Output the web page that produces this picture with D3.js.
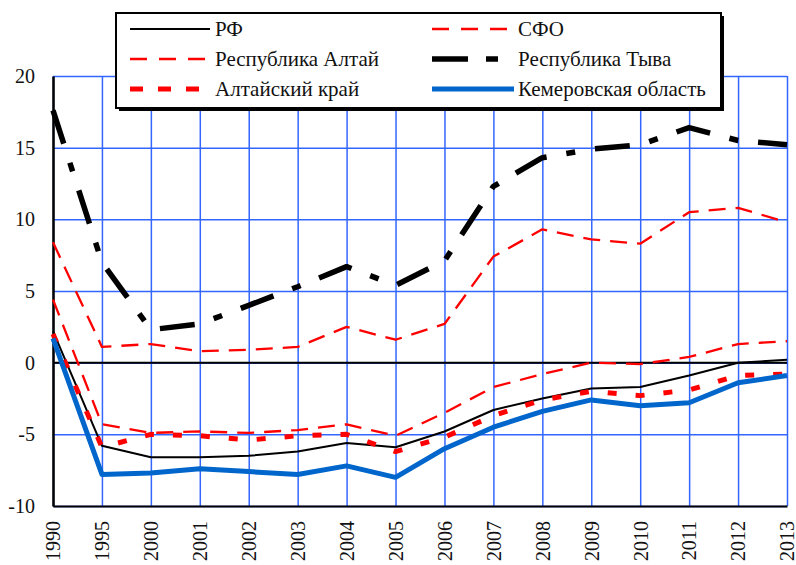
<!DOCTYPE html>
<html>
<head>
<meta charset="utf-8">
<script src="https://cdn.jsdelivr.net/npm/d3@7"></script>
<style>
  body { margin: 0; background: #fff; }
</style>
</head>
<body>
<div id="chart"></div>
<script>
// годы (категории оси X)
const years = ["1990","1995","2000","2001","2002","2003","2004","2005","2006","2007","2008","2009","2010","2011","2012","2013"];
const yTicks = [-10, -5, 0, 5, 10, 15, 20];

// естественный прирост, на 1000 чел.
const rf       = [2.2, -5.8, -6.6, -6.6, -6.5, -6.2, -5.6, -5.9, -4.8, -3.3, -2.5, -1.8, -1.7, -0.9, 0.0, 0.2];
const sfo      = [4.4, -4.3, -4.9, -4.8, -4.9, -4.7, -4.3, -5.1, -3.5, -1.7, -0.8, 0.0, -0.1, 0.4, 1.3, 1.5];
const altaiRep = [8.4, 1.1, 1.3, 0.8, 0.9, 1.1, 2.5, 1.6, 2.7, 7.4, 9.3, 8.6, 8.3, 10.5, 10.8, 9.8];
const tyva     = [17.6, 7.0, 2.3, 2.7, 4.0, 5.3, 6.7, 5.4, 7.1, 12.3, 14.3, 14.9, 15.2, 16.4, 15.5, 15.2];
const altaiKr  = [2.0, -5.9, -5.0, -5.1, -5.4, -5.1, -5.0, -6.2, -5.2, -3.7, -2.6, -2.0, -2.3, -1.9, -0.9, -0.8];
const kemerovo = [1.7, -7.8, -7.7, -7.4, -7.6, -7.8, -7.2, -8.0, -6.0, -4.5, -3.4, -2.6, -3.0, -2.8, -1.4, -0.9];

const W = 796, H = 565;
const mLeft = 53, mRight = 787, mTop = 76, mBottom = 506;
const serif = "'Liberation Serif'";

const svg = d3.select("#chart").append("svg")
  .attr("width", W).attr("height", H);

const x = d3.scalePoint().domain(years).range([mLeft, mRight]);
const y = d3.scaleLinear().domain([-10, 20]).range([mBottom, mTop]);

// сетка
const gridColor = "#3366ff";
svg.append("g")
  .attr("transform", "translate(" + mLeft + ",0)")
  .call(d3.axisLeft(y).tickValues(yTicks).tickSize(-(mRight - mLeft)).tickFormat(""))
  .call(g => g.select(".domain").remove())
  .call(g => g.selectAll("line").attr("stroke", gridColor).attr("stroke-width", 1.5));

svg.append("g")
  .attr("transform", "translate(0," + mBottom + ")")
  .call(d3.axisBottom(x).tickSize(-(mBottom - mTop)).tickFormat(""))
  .call(g => g.select(".domain").remove())
  .call(g => g.selectAll("line").attr("stroke", gridColor).attr("stroke-width", 1.5));

// нулевая линия
svg.append("line")
  .attr("x1", mLeft).attr("x2", mRight)
  .attr("y1", y(0)).attr("y2", y(0))
  .attr("stroke", "#000").attr("stroke-width", 2);

// оси
svg.append("g")
  .attr("transform", "translate(" + mLeft + ",0)")
  .call(d3.axisLeft(y).tickValues(yTicks).tickSize(0).tickPadding(18).tickFormat(d => String(d)))
  .call(g => g.select(".domain").attr("stroke", "#000").attr("stroke-width", 2.5))
  .call(g => g.selectAll("text")
    .style("font-family", serif).style("font-size", "20px").attr("fill", "#111"));

svg.append("g")
  .attr("transform", "translate(0," + mBottom + ")")
  .call(d3.axisBottom(x).tickSize(0))
  .call(g => g.select(".domain").attr("stroke", "#000").attr("stroke-width", 2))
  .call(g => g.selectAll("text")
    .style("font-family", serif).style("font-size", "20px").attr("fill", "#111")
    .attr("text-anchor", "end")
    .attr("transform", "rotate(-90)")
    .attr("x", -15).attr("y", 0).attr("dy", "0.34em"));

// серии
const series = [
  { name: "Республика Алтай", values: altaiRep, color: "#ff0000", width: 2.3, dash: "17,10", legDash: "17,12" },
  { name: "СФО", values: sfo, color: "#ff0000", width: 2.3, dash: "17,10", legDash: "17,12" },
  { name: "Республика Тыва", values: tyva, color: "#000", width: 5.5, dash: "35,20,9,20", legDash: "36,18,12,18" },
  { name: "РФ", values: rf, color: "#000", width: 2, dash: null, legDash: null },
  { name: "Алтайский край", values: altaiKr, color: "#ff0000", width: 5, dash: "9,19", legDash: "13,15" },
  { name: "Кемеровская область", values: kemerovo, color: "#0066cc", width: 5, dash: null, legDash: null }
];

const line = d3.line()
  .x((d, i) => x(years[i]))
  .y(d => y(d));

series.forEach(s => {
  svg.append("path")
    .datum(s.values)
    .attr("d", line)
    .attr("fill", "none")
    .attr("stroke", s.color)
    .attr("stroke-width", s.width)
    .attr("stroke-dasharray", s.dash)
    .attr("stroke-linejoin", "round");
});

// легенда
const legend = svg.append("g");
legend.append("rect")
  .attr("x", 119).attr("y", 16).attr("width", 605).attr("height", 95)
  .attr("fill", "#000");
legend.append("rect")
  .attr("x", 116).attr("y", 13).attr("width", 605).attr("height", 95)
  .attr("fill", "#fff").attr("stroke", "#000").attr("stroke-width", 2);

const legendItems = [
  { key: "РФ", col: 0, row: 0 },
  { key: "СФО", col: 1, row: 0 },
  { key: "Республика Алтай", col: 0, row: 1 },
  { key: "Республика Тыва", col: 1, row: 1 },
  { key: "Алтайский край", col: 0, row: 2 },
  { key: "Кемеровская область", col: 1, row: 2 }
];
const colX = [[130, 210, 215], [432, 514, 518]];
const rowY = [29, 59, 89];

legendItems.forEach(it => {
  const s = series.find(d => d.name === it.key);
  const cx = colX[it.col], cy = rowY[it.row];
  legend.append("line")
    .attr("x1", cx[0]).attr("x2", cx[1])
    .attr("y1", cy).attr("y2", cy)
    .attr("stroke", s.color).attr("stroke-width", s.width)
    .attr("stroke-dasharray", s.legDash);
  legend.append("text")
    .attr("x", cx[2]).attr("y", cy).attr("dy", "0.35em")
    .style("font-family", serif).style("font-size", "21px").attr("fill", "#111")
    .text(s.name);
});
</script>
</body>
</html>
